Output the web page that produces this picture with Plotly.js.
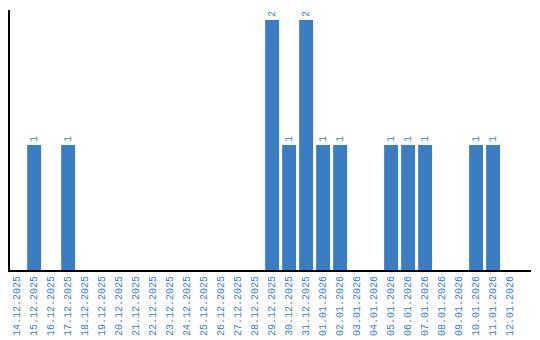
<!DOCTYPE html>
<html><head><meta charset="utf-8">
<script src="https://cdn.plot.ly/plotly-3.0.1.min.js"></script>
<style>html,body{margin:0;padding:0;background:#fff}#c{width:540px;height:340px}</style>
</head><body><div id="c"></div>
<script>
const categories = ["14.12.2025","15.12.2025","16.12.2025","17.12.2025","18.12.2025","19.12.2025","20.12.2025","21.12.2025","22.12.2025","23.12.2025","24.12.2025","25.12.2025","26.12.2025","27.12.2025","28.12.2025","29.12.2025","30.12.2025","31.12.2025","01.01.2026","02.01.2026","03.01.2026","04.01.2026","05.01.2026","06.01.2026","07.01.2026","08.01.2026","09.01.2026","10.01.2026","11.01.2026","12.01.2026"];
const counts = [0,1,0,1,0,0,0,0,0,0,0,0,0,0,0,2,1,2,1,1,0,0,1,1,1,0,0,1,1,0];
const labels = counts.map(v => v > 0 ? String(v) : "");
const blue = "#3b7dc3";
const mono = "Liberation Mono, monospace";
Plotly.newPlot("c", [{
  type: "bar", x: categories, y: counts, text: labels,
  textposition: "outside", textangle: -90, cliponaxis: false,
  textfont: {family: mono, size: 10, color: blue},
  marker: {color: blue}, hoverinfo: "none"
}], {
  width: 540, height: 340,
  margin: {l: 10, r: 9, t: 10, b: 70},
  bargap: 0.18,
  showlegend: false,
  paper_bgcolor: "#fff", plot_bgcolor: "#fff",
  xaxis: {type: "category", range: [-0.42, 30.23], tickangle: -90, tickfont: {family: mono, size: 10, color: blue},
    showline: true, linecolor: "#000", linewidth: 2, showgrid: false, ticks: "", zeroline: false},
  yaxis: {range: [0, 2.08], showline: true, linecolor: "#000", linewidth: 2, showgrid: false,
    showticklabels: false, ticks: "", zeroline: false}
}, {staticPlot: true});
</script></body></html>
